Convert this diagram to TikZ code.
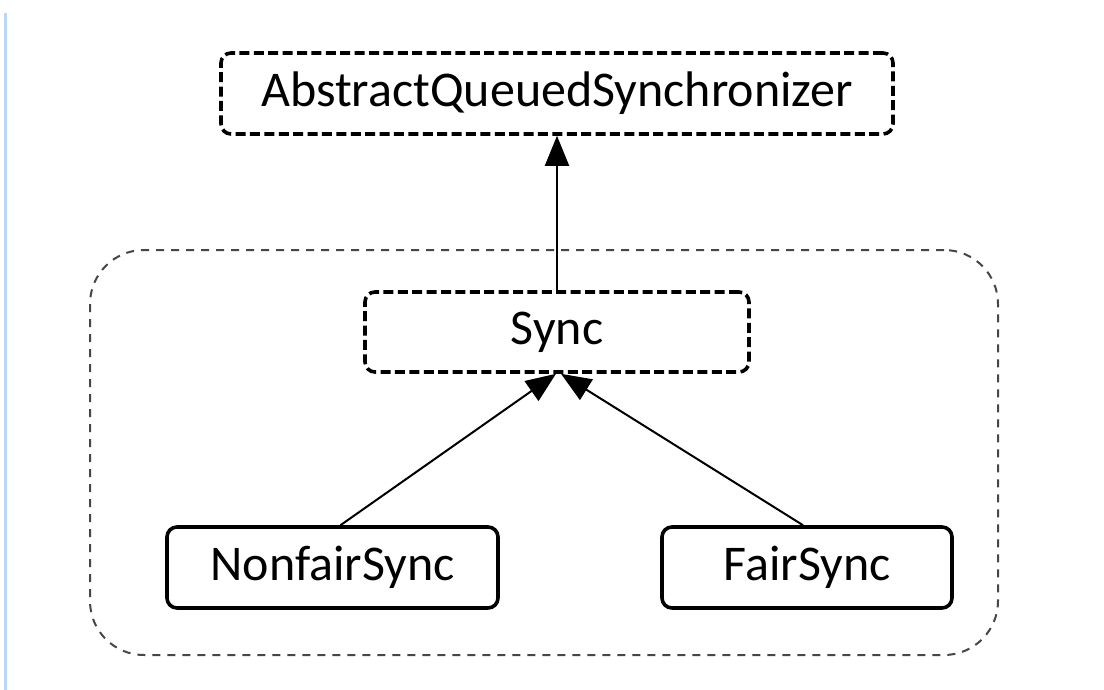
\documentclass[tikz,border=0pt]{standalone}
\usepackage{fontspec}
\setmainfont{Carlito}
\usetikzlibrary{arrows.meta}
\definecolor{sidebar}{RGB}{187,214,248}
\definecolor{groupline}{RGB}{70,70,70}
\tikzset{
  classbox/.style={draw=black, line width=1.8pt, rounded corners=5pt, inner sep=0pt,
    minimum height=40.5pt, font=\fontsize{25}{30}\selectfont, align=center},
  abstractbox/.style={classbox, dash pattern=on 5pt off 2.2pt},
  groupbox/.style={draw=groupline, line width=1pt, rounded corners=27pt, dash pattern=on 4pt off 3.5pt, inner sep=0pt},
  inherit/.style={draw=black, line width=1pt, -{Triangle[length=15pt,width=12pt]}},
}
\begin{document}
\begin{tikzpicture}[x=0.5pt,y=-0.5pt]
\useasboundingbox (0,0) rectangle (1104,690);
\fill[white] (0,0) rectangle (1104,690);
\coordinate (bartop) at (5.5,13);
\coordinate (barbot) at (5.5,690);
\draw[sidebar, line width=1.5pt] (bartop) -- (barbot);
\node[groupbox, minimum width=454pt, minimum height=202.5pt] (group) at (544,452.5) {};
\node[abstractbox, minimum width=336pt] (aqs) at (557,93.5) {AbstractQueuedSynchronizer};
\node[abstractbox, minimum width=192pt, minimum height=40pt] (sync) at (557,332) {Sync};
\node[classbox, minimum width=165.5pt] (ns) at (332.5,567.5) {NonfairSync};
\node[classbox, minimum width=145pt] (fs) at (807,567.5) {FairSync};
\draw[inherit] (sync.north) -- (aqs.south);
\draw[inherit] ([xshift=4pt]ns.north) -- ([xshift=-0.5pt]sync.south);
\draw[inherit] ([xshift=-2pt]fs.north) -- ([xshift=2pt]sync.south);
\end{tikzpicture}
\end{document}
